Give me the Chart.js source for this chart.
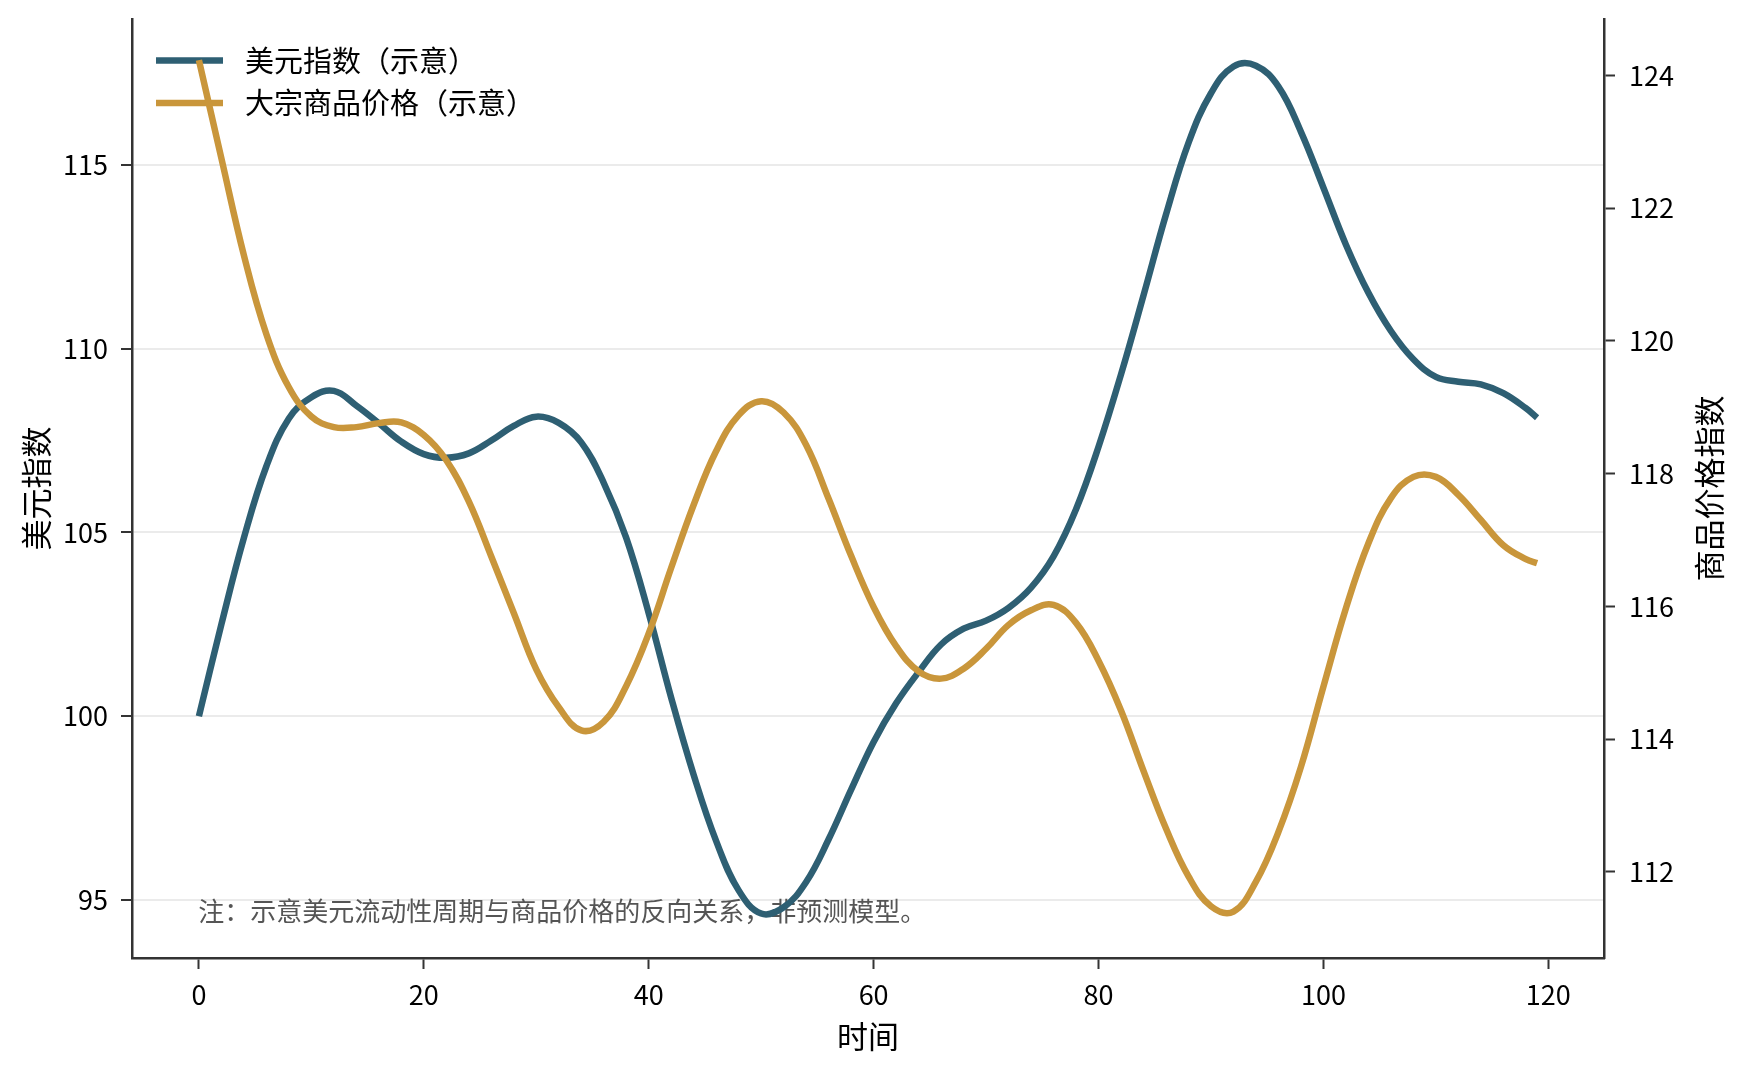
<!DOCTYPE html>
<html lang="zh">
<head>
<meta charset="UTF-8">
<title>美元指数与大宗商品价格（示意）</title>
<style>
    html, body {
        margin: 0;
        padding: 0;
        background: #fff;
    }
    #wrap {
        width: 1741px;
        height: 1070px;
    }
</style>
<script src="https://cdn.jsdelivr.net/npm/chart.js"></script>
</head>
<body>
<div id="wrap"><canvas id="chart" width="1741" height="1070"></canvas></div>
<script>
// 时间轴（读图取样，每 2 个单位一个点）
const times = [0, 2, 4, 6, 8, 10, 12, 14, 16, 18, 20, 22, 24, 26, 28, 30, 32, 34, 36, 38,
    40, 42, 44, 46, 48, 50, 52, 54, 56, 58, 60, 62, 64, 66, 68, 70, 72, 74, 76, 78,
    80, 82, 84, 86, 88, 90, 92, 94, 96, 98, 100, 102, 104, 106, 108, 110, 112, 114, 116, 118, 119];

const usdIndex = [100.0, 102.5, 104.85, 106.8, 108.1, 108.68, 108.85, 108.45, 107.97, 107.47,
    107.13, 107.03, 107.15, 107.5, 107.9, 108.15, 107.98, 107.45, 106.35, 104.85,
    102.8, 100.5, 98.4, 96.6, 95.26, 94.63, 94.8, 95.49, 96.65, 98.0,
    99.3, 100.35, 101.2, 101.95, 102.38, 102.6, 102.95, 103.5, 104.35, 105.63,
    107.33, 109.3, 111.45, 113.65, 115.6, 116.95, 117.68, 117.7, 117.13, 115.9,
    114.38, 112.83, 111.52, 110.48, 109.71, 109.23, 109.1, 109.03, 108.79, 108.38, 108.12];

const commodityIndex = [124.23, 122.75, 121.29, 120.1, 119.3, 118.86, 118.7, 118.7, 118.76, 118.77,
    118.58, 118.2, 117.58, 116.75, 115.9, 115.05, 114.48, 114.13, 114.26, 114.8,
    115.59, 116.58, 117.53, 118.34, 118.88, 119.09, 118.92, 118.43, 117.62, 116.76,
    115.99, 115.4, 115.02, 114.91, 115.06, 115.36, 115.72, 115.94, 116.02, 115.75,
    115.18, 114.43, 113.52, 112.65, 111.93, 111.48, 111.4, 111.85, 112.6, 113.58,
    114.79, 115.97, 116.95, 117.63, 117.95, 117.95, 117.68, 117.3, 116.92, 116.71, 116.65];

const timeTicks = [0, 20, 40, 60, 80, 100, 120];
const usdTicks = [95, 100, 105, 110, 115];
const commodityTicks = [112, 114, 116, 118, 120, 122, 124];

const labels = ['美元指数（示意）', '大宗商品价格（示意）'];
const note = '注：示意美元流动性周期与商品价格的反向关系，非预测模型。';

const BLUE = '#2e5f73';
const GOLD = '#c9963b';
const AXIS = '#333333';
const FONT = '"Noto Sans CJK SC", "Noto Sans", sans-serif';

Chart.defaults.font.family = FONT;
Chart.defaults.color = '#000';

// 去掉 Chart.js 为刻度标签额外留的边距，绘图区按固定尺寸排版
function noPad(s) {
    s.paddingTop = 0;
    s.paddingBottom = 0;
    s.paddingLeft = 0;
    s.paddingRight = 0;
}

// 图例、注释和右侧轴标题
const extras = {
    id: 'extras',
    beforeDatasetsDraw(chart) {
        const ctx = chart.ctx;
        const a = chart.chartArea;
        ctx.save();
        ctx.font = '26px ' + FONT;
        ctx.fillStyle = '#555';
        ctx.textBaseline = 'middle';
        ctx.textAlign = 'left';
        ctx.fillText(note, a.left + 0.045 * (a.right - a.left), a.bottom - 0.05 * (a.bottom - a.top));
        ctx.restore();
    },
    afterDatasetDraw(chart, args) {
        if (args.index !== 0) return;
        const ctx = chart.ctx;
        ctx.save();
        const rows = [[labels[0], BLUE, 60.5], [labels[1], GOLD, 103]];
        ctx.font = '29px ' + FONT;
        ctx.textBaseline = 'middle';
        ctx.textAlign = 'left';
        rows.forEach(r => {
            ctx.strokeStyle = r[1];
            ctx.lineWidth = 6.5;
            ctx.lineCap = 'butt';
            ctx.beginPath();
            ctx.moveTo(156, r[2]);
            ctx.lineTo(223, r[2]);
            ctx.stroke();
            ctx.fillStyle = '#000';
            ctx.fillText(r[0], 245, r[2]);
        });
        ctx.restore();
    },
    afterDraw(chart) {
        const ctx = chart.ctx;
        const a = chart.chartArea;
        ctx.save();
        ctx.translate(1709, (a.top + a.bottom) / 2);
        ctx.rotate(-Math.PI / 2);
        ctx.font = '31px ' + FONT;
        ctx.fillStyle = '#000';
        ctx.textAlign = 'center';
        ctx.textBaseline = 'middle';
        ctx.fillText('商品价格指数', 0, 0);
        ctx.restore();
    }
};

const ctx = document.getElementById('chart').getContext('2d');
new Chart(ctx, {
    type: 'line',
    data: {
        datasets: [
            {
                label: labels[0],
                data: times.map((t, i) => ({ x: t, y: usdIndex[i] })),
                yAxisID: 'yL',
                borderColor: BLUE,
                borderWidth: 6.5,
                pointRadius: 0,
                tension: 0.4,
                borderJoinStyle: 'round',
                order: 1
            },
            {
                label: labels[1],
                data: times.map((t, i) => ({ x: t, y: commodityIndex[i] })),
                yAxisID: 'yR',
                borderColor: GOLD,
                borderWidth: 6.5,
                pointRadius: 0,
                tension: 0.4,
                borderJoinStyle: 'round',
                order: 0
            }
        ]
    },
    options: {
        responsive: false,
        animation: false,
        layout: { padding: { top: 19, left: 0, right: 0, bottom: 0 } },
        plugins: {
            legend: { display: false },
            tooltip: { enabled: false }
        },
        scales: {
            x: {
                type: 'linear',
                position: 'bottom',
                min: -5.95,
                max: 124.95,
                afterBuildTicks: s => { s.ticks = timeTicks.map(v => ({ value: v })); },
                afterFit: s => { s.height = 112; noPad(s); },
                grid: { drawOnChartArea: false, drawTicks: true, tickLength: 11, tickColor: AXIS, tickWidth: 2 },
                border: { color: AXIS, width: 2.5 },
                ticks: { font: { size: 27 }, color: '#000', padding: 10, maxRotation: 0, autoSkip: false },
                title: { display: true, text: '时间', font: { size: 31 }, color: '#000', padding: { top: 0, bottom: 15 } }
            },
            yL: {
                type: 'linear',
                position: 'left',
                min: 93.42,
                max: 118.97,
                afterBuildTicks: s => { s.ticks = usdTicks.map(v => ({ value: v })); },
                afterFit: s => { s.width = 132; noPad(s); },
                grid: { color: '#ebebeb', lineWidth: 2, drawTicks: true, tickLength: 11, tickColor: AXIS, tickWidth: 2 },
                border: { color: AXIS, width: 2.5 },
                ticks: { font: { size: 27 }, color: '#000', padding: 13 },
                title: { display: true, text: '美元指数', font: { size: 31 }, color: '#000', padding: { top: 18, bottom: 0 } }
            },
            yR: {
                type: 'linear',
                position: 'right',
                min: 110.70,
                max: 124.85,
                afterBuildTicks: s => { s.ticks = commodityTicks.map(v => ({ value: v })); },
                afterFit: s => { s.width = 137; noPad(s); },
                grid: { drawOnChartArea: false, drawTicks: true, tickLength: 11, tickColor: AXIS, tickWidth: 2 },
                border: { color: AXIS, width: 2.5 },
                ticks: { font: { size: 27 }, color: '#000', padding: 14 }
            }
        }
    },
    plugins: [extras]
});
</script>
</body>
</html>
